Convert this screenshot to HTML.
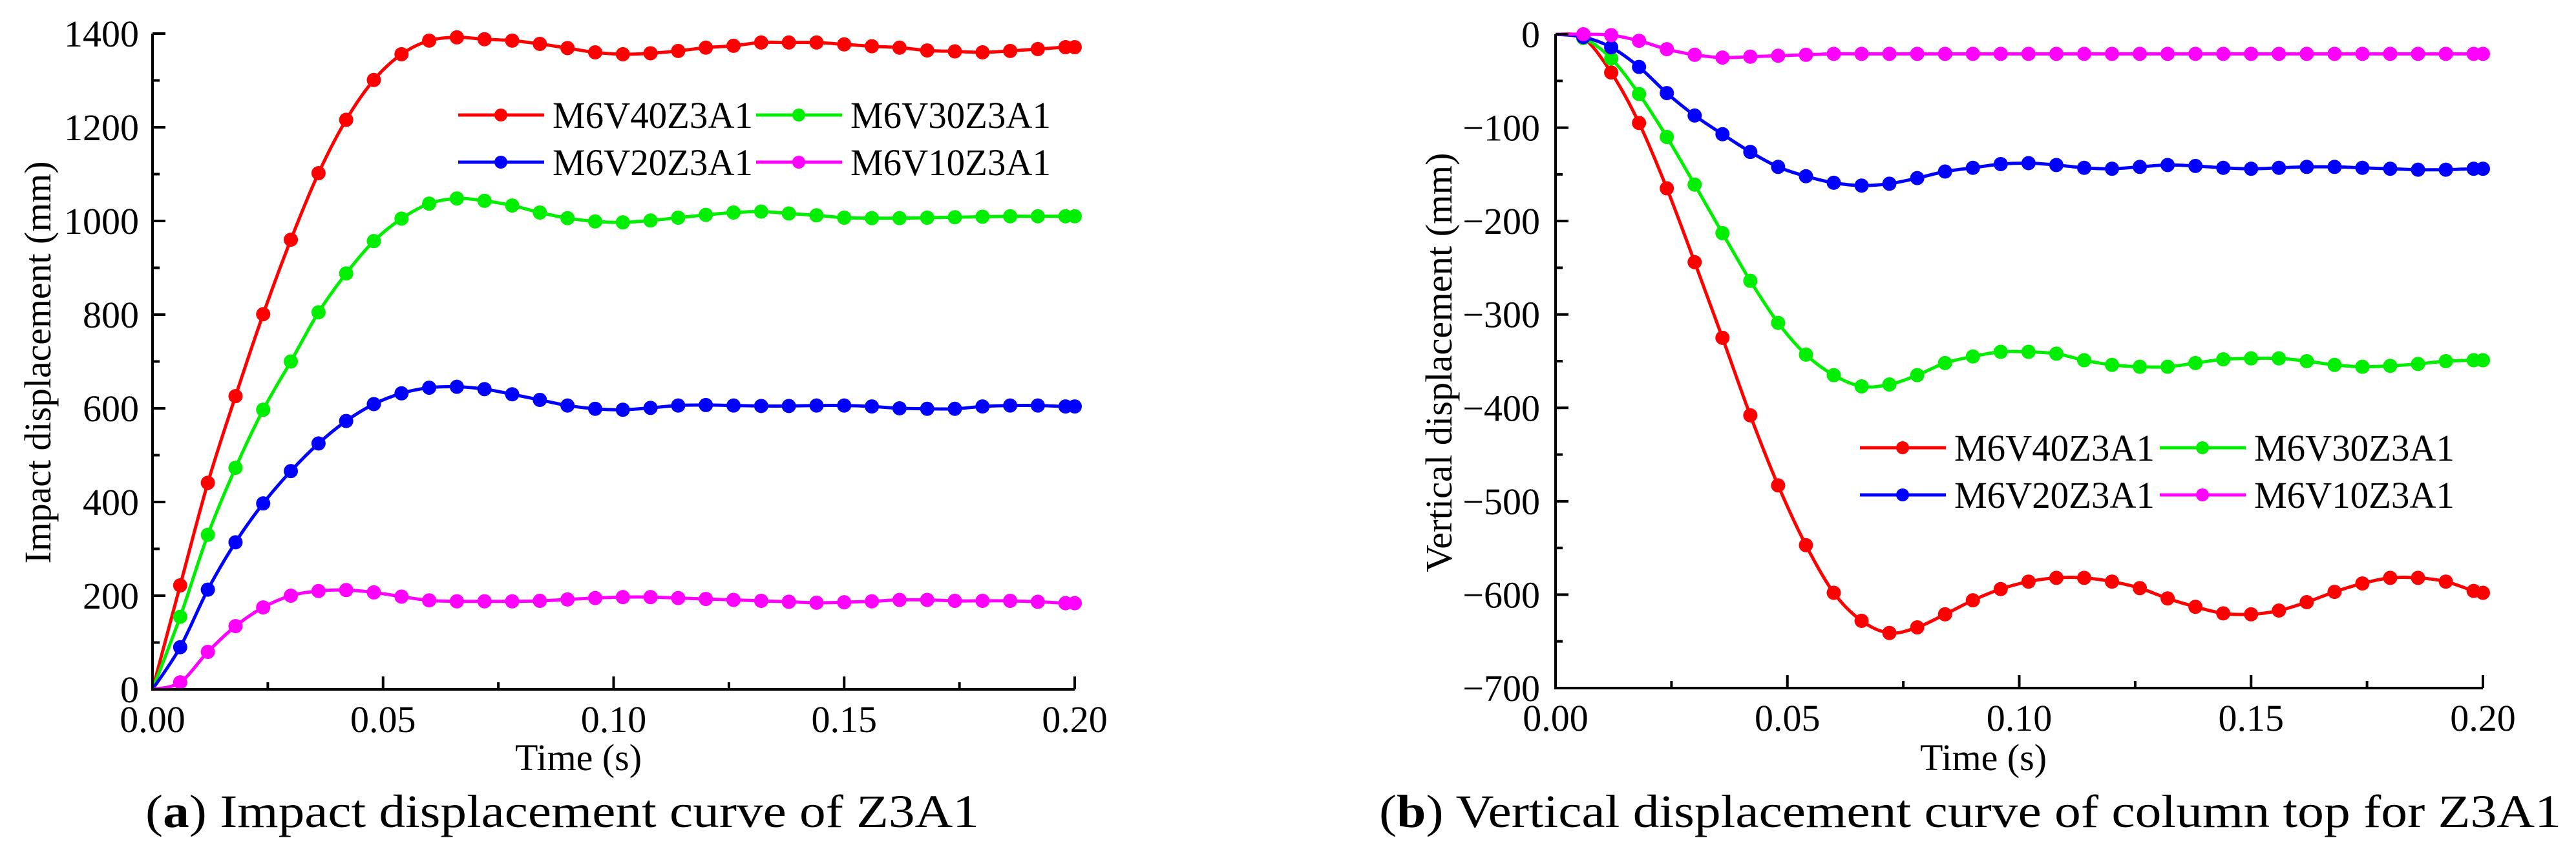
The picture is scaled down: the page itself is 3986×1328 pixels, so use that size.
<!DOCTYPE html>
<html><head><meta charset="utf-8"><style>
html,body{margin:0;padding:0;background:#fff;}
svg, svg text{font-family:"Liberation Serif","Times New Roman",serif;}
</style></head><body>
<svg id="fig" width="3986" height="1323" viewBox="0 0 3986 1323" xmlns="http://www.w3.org/2000/svg" font-family="Liberation Serif, serif">
<g id="chartA"></g>
<g id="chartB"></g>
<text x="225" y="1280" font-size="72" font-family="Liberation Serif, serif" textLength="1290" lengthAdjust="spacingAndGlyphs">(<tspan font-weight="bold">a</tspan>) Impact displacement curve of Z3A1</text>
<text x="2134" y="1280" font-size="72" font-family="Liberation Serif, serif" textLength="1829" lengthAdjust="spacingAndGlyphs">(<tspan font-weight="bold">b</tspan>) Vertical displacement curve of column top for Z3A1</text>
</svg>
<script>
const times = [0,0.006,0.012,0.018,0.024,0.03,0.036,0.042,0.048,0.054,0.06,0.066,0.072,0.078,0.084,0.09,0.096,0.102,0.108,0.114,0.12,0.126,0.132,0.138,0.144,0.15,0.156,0.162,0.168,0.174,0.18,0.186,0.192,0.198,0.2];
const seriesNames = ["M6V40Z3A1","M6V30Z3A1","M6V20Z3A1","M6V10Z3A1"];
const seriesColors = ["#ff0000","#00ee00","#0000ff","#ff00ff"];
const impactV40 = [0,222,441,626,801,960,1102,1216,1301,1356,1385,1392,1388,1385,1378,1369,1360,1356,1358,1363,1370,1374,1381,1381,1381,1377,1373,1370,1364,1362,1360,1363,1367,1371,1371];
const impactV30 = [0,155,330,473,597,700,805,888,957,1005,1037,1048,1043,1033,1018,1006,999,997,1001,1007,1013,1018,1020,1016,1012,1007,1006,1006,1007,1008,1009,1010,1010,1010,1010];
const impactV20 = [0,90,213,314,397,466,525,573,609,632,644,646,641,630,618,606,599,597,601,606,607,606,605,605,606,606,604,600,599,599,604,606,606,604,604];
const impactV10 = [0,15,80,135,175,200,210,212,207,198,190,188,188,188,189,192,195,197,197,195,193,191,189,187,185,186,188,191,191,189,189,189,187,184,184];
const vertV40 = [0,-4,-41,-95,-165,-244,-325,-408,-483,-547,-598,-628,-641,-635,-621,-606,-594,-586,-582,-582,-586,-593,-604,-613,-620,-621,-617,-608,-597,-588,-582,-582,-586,-596,-598];
const vertV30 = [0,-4,-26,-64,-110,-161,-213,-264,-309,-343,-365,-377,-375,-365,-352,-345,-340,-340,-342,-349,-354,-356,-356,-352,-348,-347,-347,-350,-354,-356,-355,-353,-350,-349,-349];
const vertV20 = [0,-3,-14,-35,-63,-87,-107,-126,-142,-152,-159,-162,-160,-154,-147,-143,-139,-138,-140,-143,-144,-142,-140,-141,-143,-144,-143,-142,-142,-143,-144,-145,-145,-144,-144];
const vertV10 = [0,0,-1,-7,-16,-22,-25,-24,-23,-22,-21,-21,-21,-21,-21,-21,-21,-21,-21,-21,-21,-21,-21,-21,-21,-21,-21,-21,-21,-21,-21,-21,-21,-21,-21];
const xTicks = [0,0.05,0.10,0.15,0.20];
const xTickLabels = ["0.00","0.05","0.10","0.15","0.20"];
const yTicksA = [0,200,400,600,800,1000,1200,1400];
const yTicksB = [0,-100,-200,-300,-400,-500,-600,-700];

const NS="http://www.w3.org/2000/svg";
const FF="Liberation Serif, serif";
function mk(parent,tag,attrs){const e=document.createElementNS(NS,tag);for(const k in attrs)e.setAttribute(k,attrs[k]);if(tag==="text")e.setAttribute("font-family",FF);parent.appendChild(e);return e;}
function smoothPath(pts){let d="M"+pts[0][0]+","+pts[0][1];for(let i=0;i<pts.length-1;i++){const p0=pts[i-1]||pts[i],p1=pts[i],p2=pts[i+1],p3=pts[i+2]||p2;const c1x=p1[0]+(p2[0]-p0[0])/6,c1y=p1[1]+(p2[1]-p0[1])/6,c2x=p2[0]-(p3[0]-p1[0])/6,c2y=p2[1]-(p3[1]-p1[1])/6;d+=" C"+c1x+","+c1y+" "+c2x+","+c2y+" "+p2[0]+","+p2[1];}return d;}

function drawChart(g,cfg){
  const sx=t=>cfg.x0+(t-0)/(0.2)*(cfg.x1-cfg.x0);
  const sy=v=>cfg.yb+(v-cfg.vmin)/(cfg.vmax-cfg.vmin)*(cfg.yt-cfg.yb);
  cfg.series.forEach((vals,si)=>{
    const col=seriesColors[si];
    const sg=mk(g,"g",{});
    
    
    const pts=times.map((t,i)=>[sx(t),sy(vals[i])]);
    const p=mk(sg,"path",{d:smoothPath(pts),fill:"none",stroke:col,"stroke-width":5});
    
    
    pts.forEach((pt,i)=>{ if(i===0)return;
      const c=mk(sg,"circle",{cx:pt[0],cy:pt[1],r:11,fill:col});
      
      
    });
  });
  const ax=mk(g,"path",{d:`M${cfg.x0},${cfg.yt} L${cfg.x0},${cfg.yb} L${cfg.x1},${cfg.yb}`,fill:"none",stroke:"#000","stroke-width":4});
  
  
  for(let k=0;k<=8;k++){const t=k*0.025;const x=sx(t);const len=(k%2===0)?20:11;
    mk(g,"line",{x1:x,y1:cfg.yb,x2:x,y2:cfg.yb-len,stroke:"#000","stroke-width":4});}
  xTicks.forEach((t,i)=>{const tx=mk(g,"text",{x:sx(t),y:cfg.yb+66,"font-size":58,"text-anchor":"middle"});tx.textContent=xTickLabels[i];
    
    });
  const step=cfg.yTicks[1]-cfg.yTicks[0];
  cfg.yTicks.forEach((v,i)=>{const y=sy(v);mk(g,"line",{x1:cfg.x0,y1:y,x2:cfg.x0+20,y2:y,stroke:"#000","stroke-width":4});
    if(i<cfg.yTicks.length-1){const ym=sy(v+step/2);mk(g,"line",{x1:cfg.x0,y1:ym,x2:cfg.x0+11,y2:ym,stroke:"#000","stroke-width":4});}
    const tx=mk(g,"text",{x:cfg.ylabX,y:y+20,"font-size":58,"text-anchor":"end"});tx.textContent=(v<0?"\u2212"+(-v):String(v));
    
    });
  const xt=mk(g,"text",{x:cfg.xTitleX,y:1192,"font-size":58,"text-anchor":"middle"});xt.textContent="Time (s)";
  
  
  const yt=mk(g,"text",{x:0,y:0,"font-size":58,"text-anchor":"middle",transform:`translate(${cfg.yTitleX},561) rotate(-90)`,textLength:cfg.yTitleLen,lengthAdjust:"spacingAndGlyphs"});yt.textContent=cfg.yTitle;
  
  
  const lg=mk(g,"g",{});
  
  
  seriesNames.forEach((n,i)=>{const L=cfg.legend;const col=i%2,row=Math.floor(i/2);
    const lx=L.lineX[col],ly=L.rows[row];
    const eg=mk(lg,"g",{});
    
    
    mk(eg,"line",{x1:lx,y1:ly,x2:lx+133,y2:ly,stroke:seriesColors[i],"stroke-width":5});
    mk(eg,"circle",{cx:lx+66,cy:ly,r:10,fill:seriesColors[i]});
    const tx=mk(eg,"text",{x:lx+146,y:ly+20,"font-size":58,textLength:310,lengthAdjust:"spacingAndGlyphs"});tx.textContent=n;});
}
drawChart(document.getElementById("chartA"),{x0:236,x1:1663,yb:1067,yt:52,vmin:0,vmax:1400,yTicks:yTicksA,ylabX:215,
  series:[impactV40,impactV30,impactV20,impactV10],xTitleX:895,yTitleX:78,yTitle:"Impact displacement (mm)",yTitleLen:623,
  legend:{lineX:[709,1170],rows:[178,251]}});
drawChart(document.getElementById("chartB"),{x0:2407,x1:3842,yb:1065,yt:53,vmin:-700,vmax:0,yTicks:yTicksB,ylabX:2383,
  series:[vertV40,vertV30,vertV20,vertV10],xTitleX:3069,yTitleX:2246,yTitle:"Vertical displacement (mm)",yTitleLen:649,
  legend:{lineX:[2878,3342],rows:[693,766]}});
</script>
</body></html>
